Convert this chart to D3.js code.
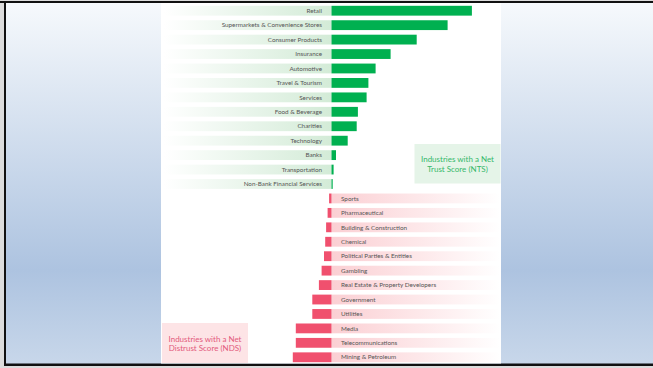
<!DOCTYPE html>
<html>
<head>
<meta charset="utf-8">
<script src="https://cdn.jsdelivr.net/npm/d3@7"></script>
<style>
  html, body { margin: 0; padding: 0; background: #dcdcdc; overflow: hidden; }
  #chart1 { width: 653px; height: 368px; }
  text { font-family: Lato, "Open Sans", sans-serif; }
</style>
</head>
<body>
<div id="chart1"></div>
<script>
// net trust industries (top, green) and net distrust industries (bottom, red)
const trustNames = ["Retail","Supermarkets & Convenience Stores","Consumer Products","Insurance","Automotive",
  "Travel & Tourism","Services","Food & Beverage","Charities","Technology","Banks","Transportation",
  "Non-Bank Financial Services"];
const trustValues = [46.8, 38.7, 28.4, 19.7, 14.7, 12.3, 11.7, 8.8, 8.4, 5.4, 1.5, 0.7, 0.4];

const distrustNames = ["Sports","Pharmaceutical","Building & Construction","Chemical","Political Parties & Entities",
  "Gambling","Real Estate & Property Developers","Government","Utilities","Media","Telecommunications",
  "Mining & Petroleum"];
const distrustValues = [-0.8, -1.3, -1.8, -2.1, -2.5, -3.3, -4.2, -6.4, -6.4, -11.9, -11.9, -12.9];

const width = 653;
const height = 368;

const data = trustNames.map((n, i) => ({name: n, value: trustValues[i]}))
  .concat(distrustNames.map((n, i) => ({name: n, value: distrustValues[i]})));

const svg = d3.select("#chart1")
    .append("svg")
    .attr("width", width)
    .attr("height", height)
    .attr("viewBox", [0, 0, width, height]);

const defs = svg.append("defs");

// page background gradient
const bg = defs.append("linearGradient").attr("id", "bg").attr("x1", 0).attr("y1", 0).attr("x2", 0).attr("y2", 1);
bg.append("stop").attr("offset", "0%").attr("stop-color", "#f6f9fc");
bg.append("stop").attr("offset", "74%").attr("stop-color", "#adc3e0");
bg.append("stop").attr("offset", "100%").attr("stop-color", "#c8d7ea");

const gGreen = defs.append("linearGradient").attr("id", "gGreen");
gGreen.append("stop").attr("offset", "0%").attr("stop-color", "#ffffff");
gGreen.append("stop").attr("offset", "100%").attr("stop-color", "#d3ebd7");

const gRed = defs.append("linearGradient").attr("id", "gRed");
gRed.append("stop").attr("offset", "0%").attr("stop-color", "#fbcfd3");
gRed.append("stop").attr("offset", "100%").attr("stop-color", "#ffffff");

svg.append("rect").attr("x", 6).attr("y", 3).attr("width", width - 6).attr("height", 361).attr("fill", "url(#bg)");

// frame
svg.append("rect").attr("x", 0).attr("y", 1).attr("width", width).attr("height", 2).attr("fill", "#111");
svg.append("rect").attr("x", 4).attr("y", 1).attr("width", 2).attr("height", 365).attr("fill", "#111");
svg.append("rect").attr("x", 4).attr("y", 363.5).attr("width", width - 4).attr("height", 2.5).attr("fill", "#111");

// white panel
svg.append("rect").attr("x", 161).attr("y", 3).attr("width", 340).attr("height", 360.5).attr("fill", "#fff");

const x = d3.scaleLinear()
    .domain([-14, 50])
    .range([331.5 - 14 * 3, 331.5 + 50 * 3]);

const y = d3.scaleBand()
    .domain(data.map(d => d.name))
    .range([3.5, 364.5])
    .paddingInner(0.32)
    .paddingOuter(0.16);

// label bands
const band = svg.append("g");
band.selectAll("rect")
  .data(data)
  .join("rect")
    .attr("x", d => d.value >= 0 ? 164 : x(0))
    .attr("width", d => d.value >= 0 ? x(0) - 164 : 500 - x(0))
    .attr("y", d => y(d.name))
    .attr("height", y.bandwidth())
    .attr("fill", d => d.value >= 0 ? "url(#gGreen)" : "url(#gRed)");

// bars
svg.append("g").selectAll("rect")
  .data(data)
  .join("rect")
    .attr("x", d => x(Math.min(0, d.value)))
    .attr("width", d => Math.abs(x(d.value) - x(0)))
    .attr("y", d => y(d.name))
    .attr("height", y.bandwidth())
    .attr("fill", d => d.value >= 0 ? "#00b050" : "#f0506e");

// labels
svg.append("g").selectAll("text")
  .data(data)
  .join("text")
    .attr("x", d => d.value >= 0 ? 322 : 341)
    .attr("y", d => y(d.name) + y.bandwidth() / 2)
    .attr("dy", "0.35em")
    .attr("text-anchor", d => d.value >= 0 ? "end" : "start")
    .attr("font-size", 6.3)
    .attr("fill", "#555")
    .text(d => d.name);

// callout boxes
function callout(bx, by, bw, bh, fill, color, lines) {
  svg.append("rect").attr("x", bx).attr("y", by).attr("width", bw).attr("height", bh).attr("fill", fill);
  svg.append("text")
    .attr("x", bx + bw / 2)
    .attr("text-anchor", "middle")
    .attr("font-size", 8)
    .attr("fill", color)
    .selectAll("tspan")
    .data(lines)
    .join("tspan")
      .attr("x", bx + bw / 2)
      .attr("y", (d, i) => by + bh / 2 - 1.5 + i * 9.3)
      .text(d => d);
}
callout(414.5, 144, 86, 39.5, "#e5f4e8", "#35b86a", ["Industries with a Net", "Trust Score (NTS)"]);
callout(162, 323, 86, 40, "#fde4e6", "#e35a7c", ["Industries with a Net", "Distrust Score (NDS)"]);
</script>
</body>
</html>
